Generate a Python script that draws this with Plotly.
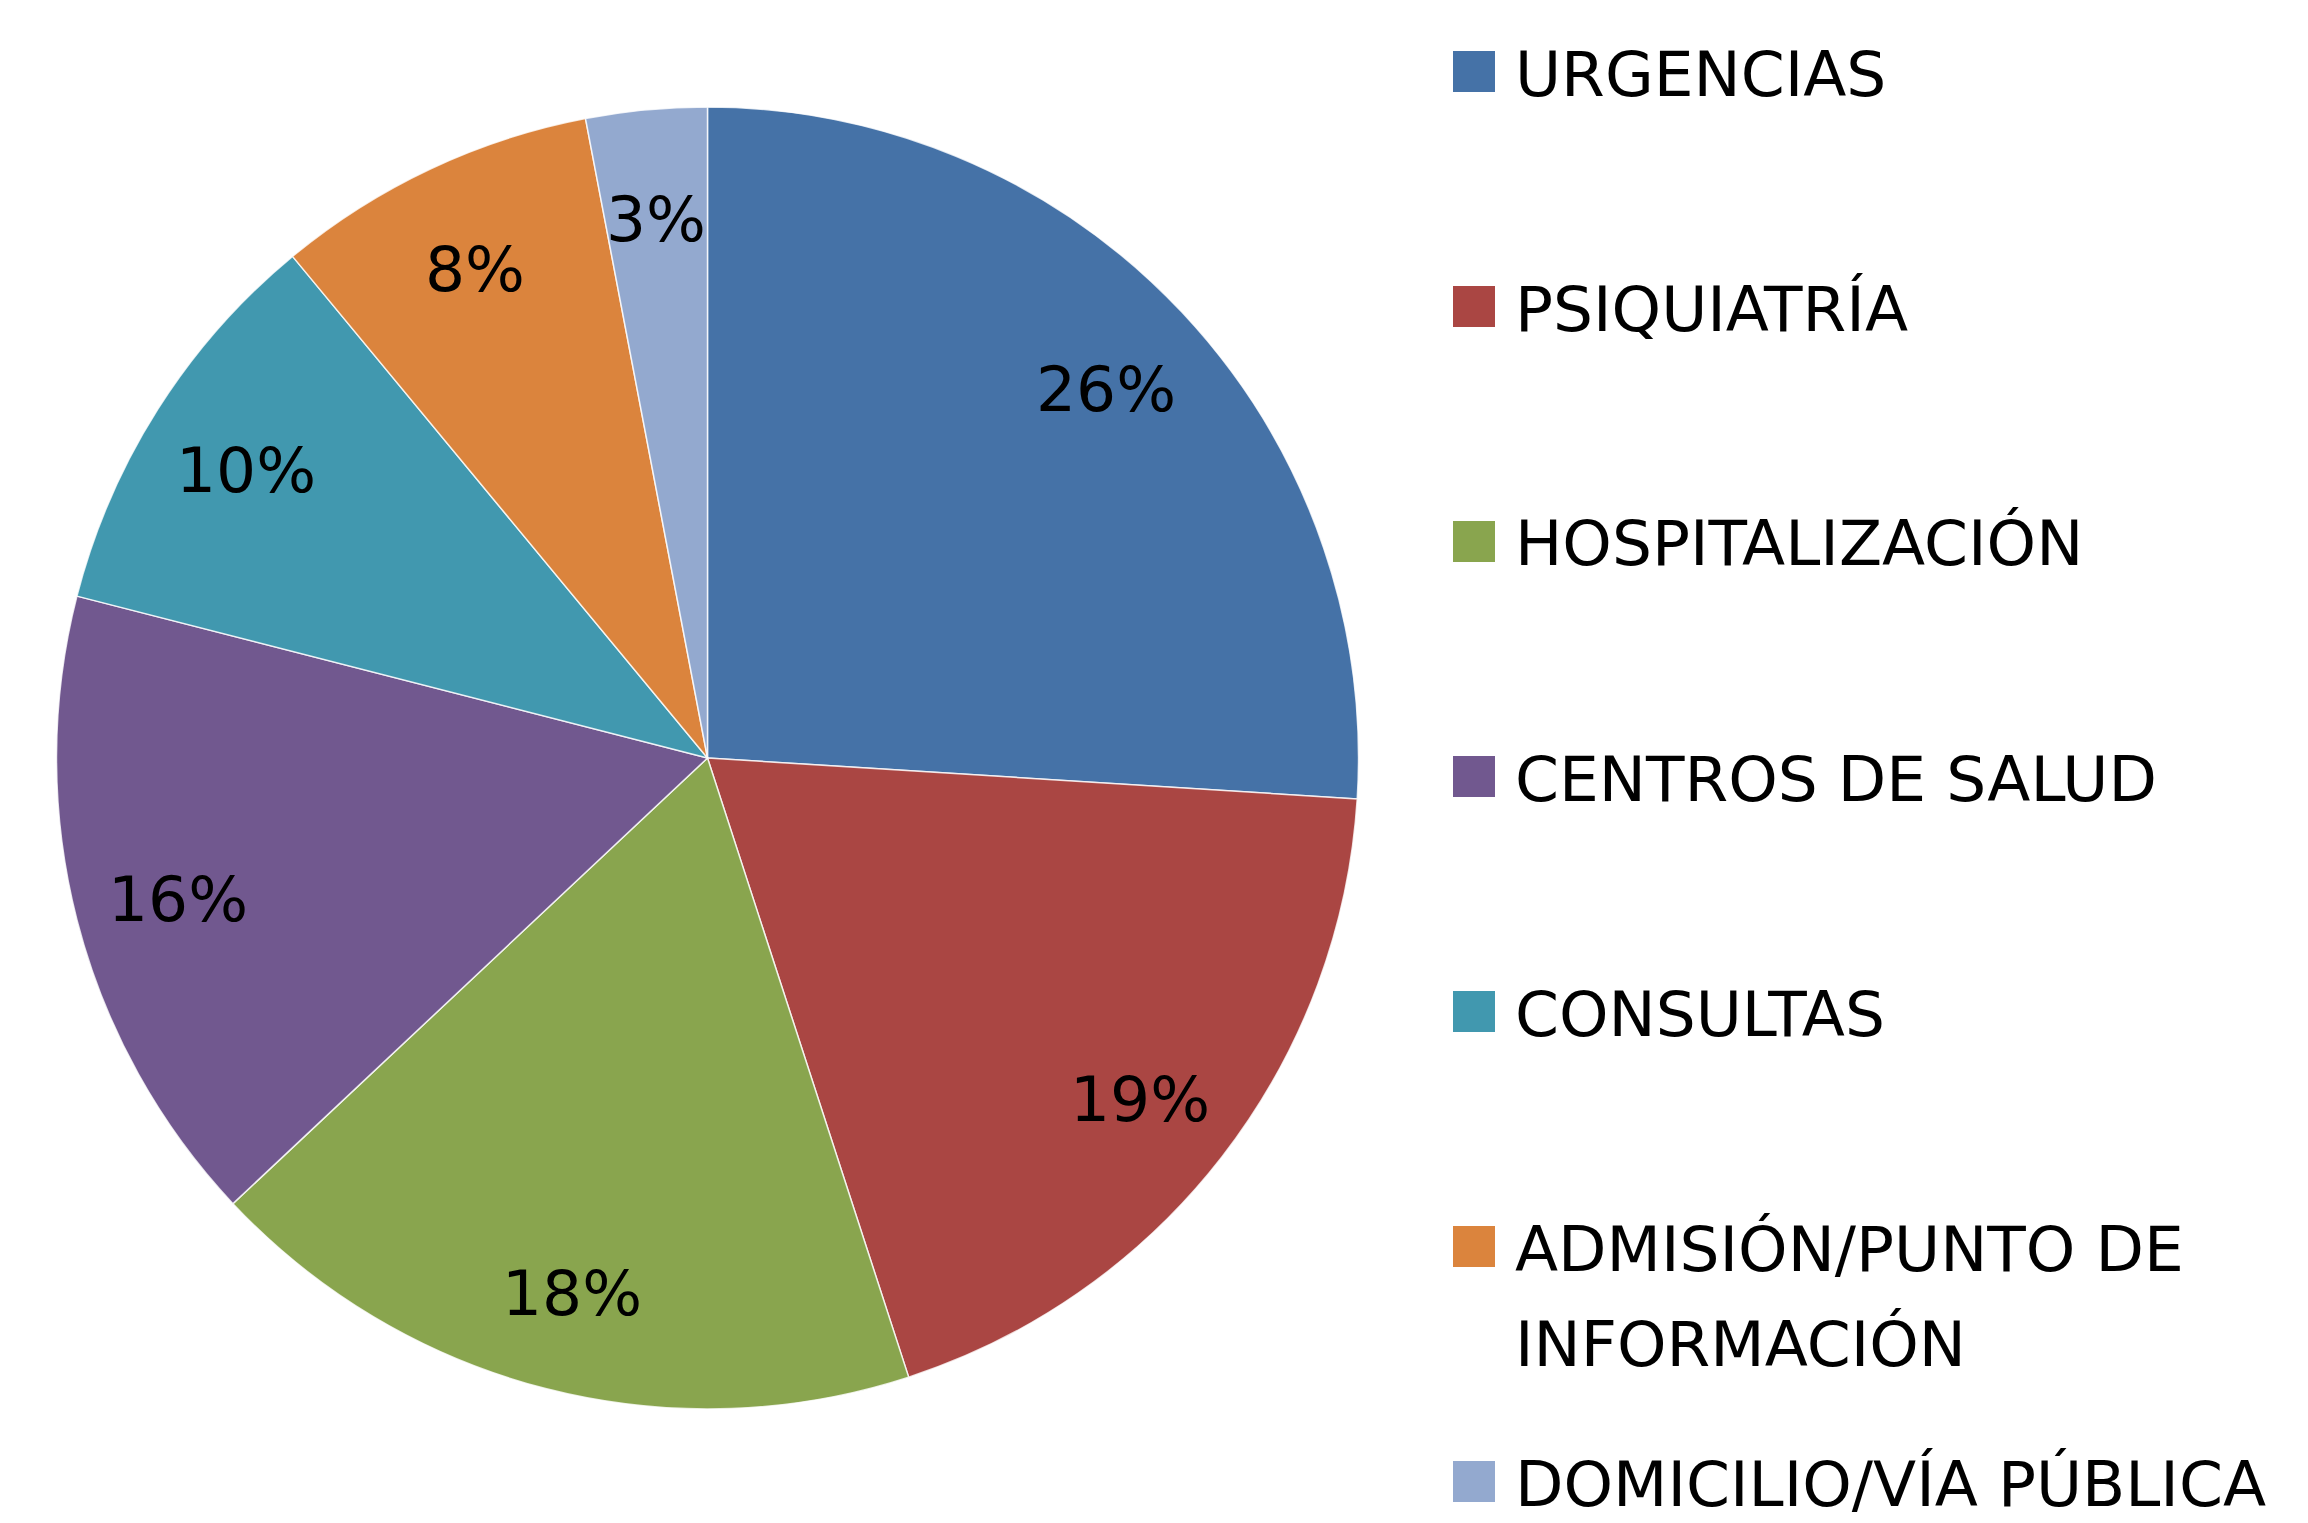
import textwrap
import numpy as np
import plotly.graph_objects as go

# ---- data ----
categories = ["URGENCIAS", "PSIQUIATRÍA", "HOSPITALIZACIÓN", "CENTROS DE SALUD",
              "CONSULTAS", "ADMISIÓN/PUNTO DE INFORMACIÓN", "DOMICILIO/VÍA PÚBLICA"]
values = [26, 19, 18, 16, 10, 8, 3]
colors = ["#4572A7", "#AA4643", "#89A54E", "#71588F", "#4198AF", "#DB843D", "#93A9CF"]

# ---- canvas / layout geometry (pixels) ----
W, H = 2308, 1523
pie_left, pie_right, pie_top, pie_bottom = 55, 1360, 107, 1409
FONT = "DejaVu Sans"
FS = 63

fig = go.Figure()
fig.add_trace(go.Pie(
    labels=categories, values=values, sort=False, direction="clockwise", rotation=0,
    marker=dict(colors=colors, line=dict(color="rgba(255,255,255,0.8)", width=1.5)),
    textinfo="none", showlegend=False,
    domain=dict(x=[pie_left / W, pie_right / W], y=[1 - pie_bottom / H, 1 - pie_top / H]),
))

annotations = []
shapes = []

# data labels: percentages placed along each slice's mid-angle
cx = (pie_left + pie_right) / 2
cy = (pie_top + pie_bottom) / 2
R = min(pie_right - pie_left, pie_bottom - pie_top) / 2
vals = np.array(values, dtype=float)
frac = vals / vals.sum()
cum = np.cumsum(frac) - frac / 2
for f, m in zip(frac, cum):
    th = 2 * np.pi * m
    px = cx + 0.84 * R * np.sin(th)
    py = cy - 0.84 * R * np.cos(th) + 6
    annotations.append(dict(
        x=px / W, y=1 - py / H, xref="paper", yref="paper",
        text=f"{round(f * 100)}%", showarrow=False, xanchor="center", yanchor="middle",
        font=dict(family=FONT, size=FS, color="#000000"),
    ))

# legend (built from categories/colors)
leg_sq_x0, leg_sq_x1 = 1453, 1495
leg_text_x = 1513
leg_first = 74
leg_step = 235
line_step = 95
for i, (cat, col) in enumerate(zip(categories, colors)):
    yc = leg_first + i * leg_step
    shapes.append(dict(type="rect", xref="paper", yref="paper",
                       x0=leg_sq_x0 / W, x1=leg_sq_x1 / W,
                       y0=1 - (yc - 23) / H, y1=1 - (yc + 18) / H,
                       fillcolor=col, line=dict(width=0)))
    for j, line in enumerate(textwrap.wrap(cat, width=21)):
        annotations.append(dict(
            x=leg_text_x / W, y=1 - (yc + j * line_step) / H, xref="paper", yref="paper",
            text=line, showarrow=False, xanchor="left", yanchor="middle",
            font=dict(family=FONT, size=FS, color="#000000"),
        ))

fig.update_layout(
    width=W, height=H, margin=dict(l=0, r=0, t=0, b=0),
    paper_bgcolor="white", plot_bgcolor="white",
    annotations=annotations, shapes=shapes, showlegend=False,
)

fig.write_html("out.html", config={"displayModeBar": False},
               post_script="document.body.style.margin='0';document.body.style.overflow='hidden';")
